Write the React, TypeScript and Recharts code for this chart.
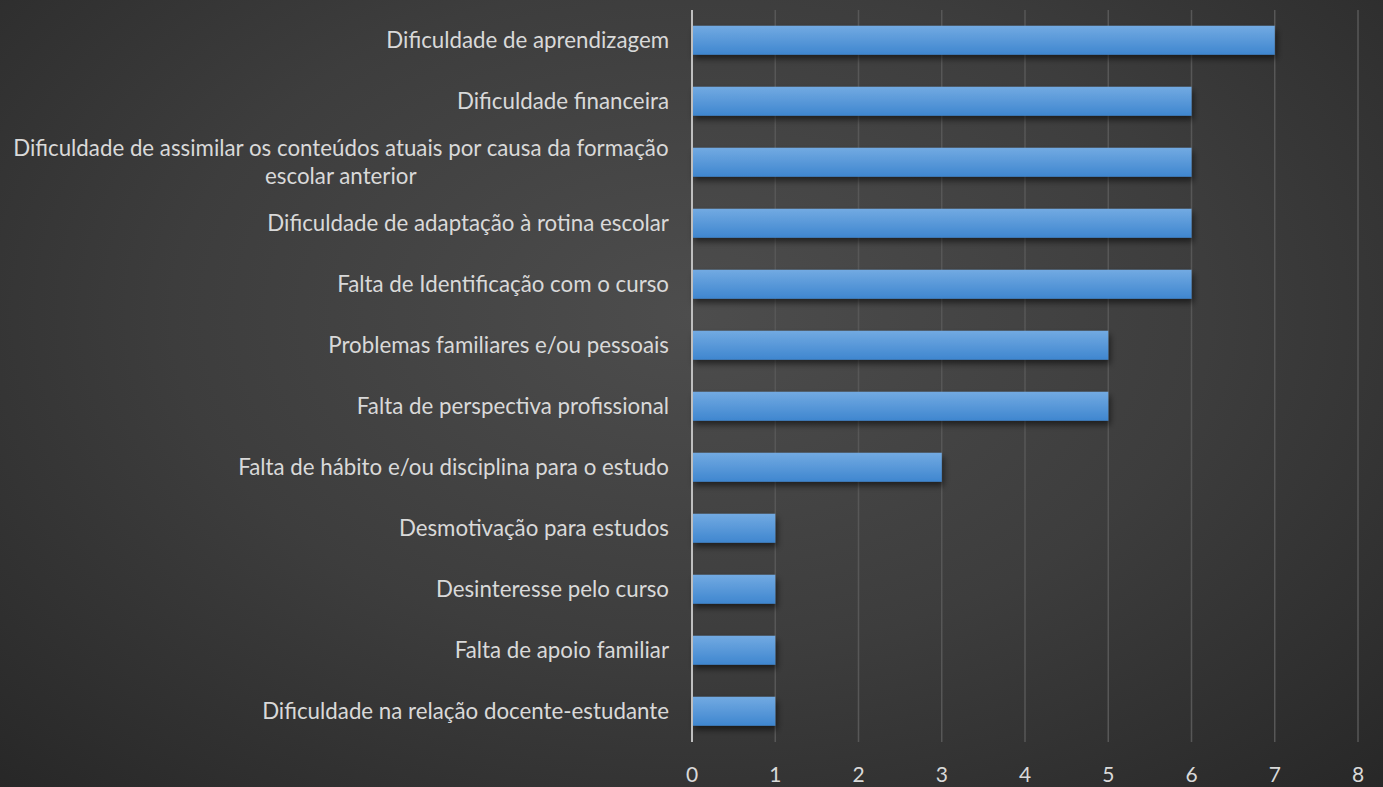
import React from "react";
import { BarChart, Bar, XAxis, YAxis, CartesianGrid } from "recharts";

const categories = [
  "Dificuldade de aprendizagem",
  "Dificuldade financeira",
  "Dificuldade de assimilar os conteúdos atuais por causa da formação\nescolar anterior",
  "Dificuldade de adaptação à rotina escolar",
  "Falta de Identificação com o curso",
  "Problemas familiares e/ou pessoais",
  "Falta de perspectiva profissional",
  "Falta de hábito e/ou disciplina para o estudo",
  "Desmotivação para estudos",
  "Desinteresse pelo curso",
  "Falta de apoio familiar",
  "Dificuldade na relação docente-estudante",
];
const counts = [7, 6, 6, 6, 6, 5, 5, 3, 1, 1, 1, 1];
const xTicks = [0, 1, 2, 3, 4, 5, 6, 7, 8];

const data = categories.map((name, i) => ({ name, value: counts[i] }));

const FONT = "Lato, sans-serif";
const FONT_SIZE = 22.3;

let ctx: CanvasRenderingContext2D | null = null;
function measure(s: string) {
  if (!ctx) ctx = document.createElement("canvas").getContext("2d");
  if (!ctx) return s.length * 10;
  ctx.font = `${FONT_SIZE}px Lato`;
  return ctx.measureText(s).width;
}

function CategoryTick(props: any) {
  const { x, y, payload } = props;
  const lines: string[] = String(payload.value).split("\n");
  const right = x - 15;
  if (lines.length === 1) {
    return (
      <text x={right} y={y} dy="0.35em" textAnchor="end" fill="#d9d9d9" fontSize={FONT_SIZE} fontFamily={FONT}>
        {lines[0]}
      </text>
    );
  }
  const w = Math.max(...lines.map(measure));
  const cx = right - w / 2;
  const lh = 28;
  const y0 = y - ((lines.length - 1) * lh) / 2;
  return (
    <text textAnchor="middle" fill="#d9d9d9" fontSize={FONT_SIZE} fontFamily={FONT}>
      {lines.map((l, i) => (
        <tspan key={i} x={cx} y={y0 + i * lh} dy="0.35em">
          {l}
        </tspan>
      ))}
    </text>
  );
}

export default function App() {
  return (
    <div
      style={{
        position: "absolute",
        left: 0,
        top: 0,
        width: 1383,
        height: 787,
        background: "radial-gradient(ellipse 75% 85% at 50% 40%, #4d4d4d 0%, #3d3d3d 50%, #262626 100%)",
      }}
    >
      <BarChart
        width={1383}
        height={787}
        data={data}
        layout="vertical"
        margin={{ top: 10, right: 25, bottom: 0, left: 0 }}
        barCategoryGap="26%"
      >
        <defs>
          <linearGradient id="barFill" x1="0" y1="0" x2="0" y2="1">
            <stop offset="0%" stopColor="#72aae2" />
            <stop offset="100%" stopColor="#3f86cf" />
          </linearGradient>
          <filter id="barShadow" x="-10%" y="-30%" width="130%" height="190%">
            <feDropShadow dx="2" dy="4" stdDeviation="3" floodColor="#000" floodOpacity="0.55" />
          </filter>
        </defs>
        <CartesianGrid horizontal={false} stroke="#575757" strokeWidth={1.5} />
        <XAxis
          type="number"
          domain={[0, 8]}
          ticks={xTicks}
          axisLine={false}
          tickLine={false}
          height={45}
          tick={{ fill: "#d9d9d9", fontSize: 21, fontFamily: FONT }}
          tickMargin={19}
        />
        <YAxis
          type="category"
          dataKey="name"
          width={692}
          axisLine={{ stroke: "#bfbfbf", strokeWidth: 2 }}
          tickLine={false}
          tick={<CategoryTick />}
          interval={0}
        />
        <Bar dataKey="value" fill="url(#barFill)" filter="url(#barShadow)" isAnimationActive={false} />
      </BarChart>
    </div>
  );
}
